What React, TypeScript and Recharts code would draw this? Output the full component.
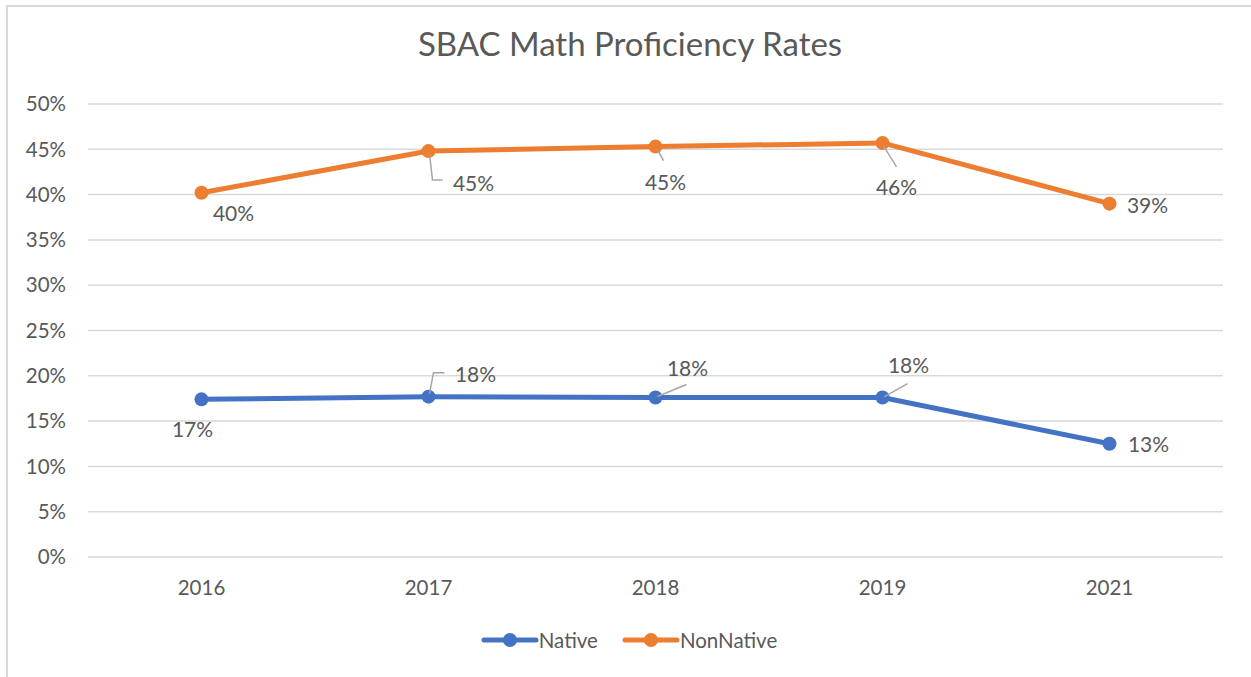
import { LineChart, Line, XAxis, YAxis, CartesianGrid, Legend } from 'recharts'

const years = ['2016', '2017', '2018', '2019', '2021']
const nativeRates = [17.4, 17.7, 17.6, 17.6, 12.5]
const nonNativeRates = [40.2, 44.8, 45.3, 45.7, 39.0]
const yTicks = [0, 5, 10, 15, 20, 25, 30, 35, 40, 45, 50]

const BLUE = '#4472C4'
const ORANGE = '#ED7D31'
const TEXT = '#595959'
const GRID = '#d9d9d9'
const FONT = 'Lato, "Open Sans", sans-serif'

const data = years.map((year, i) => ({
  year,
  Native: nativeRates[i],
  NonNative: nonNativeRates[i],
}))

// label placement relative to each point (Excel-style, some with leader lines)
type LabelPos = { dx: number; dy: number; leader?: number[][] }

const nativeLabelPos: LabelPos[] = [
  { dx: -9, dy: 29 },
  { dx: 47, dy: -23, leader: [[1, -3], [5, -24], [16, -24]] },
  { dx: 32, dy: -30, leader: [[2, -1], [31, -13]] },
  { dx: 26, dy: -33, leader: [[2, -1], [25, -14]] },
  { dx: 39, dy: 0 },
]

const nonNativeLabelPos: LabelPos[] = [
  { dx: 32, dy: 20 },
  { dx: 45, dy: 31, leader: [[1, 3], [4, 29], [14, 29]] },
  { dx: 10, dy: 35, leader: [[2, 3], [8, 14]] },
  { dx: 14, dy: 44, leader: [[1, 3], [14, 24]] },
  { dx: 38, dy: 1 },
]

function makeLabel(positions: LabelPos[]) {
  return (props: any) => {
    const { x, y, value, index } = props
    const p = positions[index]
    if (!p) return null
    return (
      <g>
        {p.leader && (
          <polyline
            points={p.leader.map(([a, b]) => `${x + a},${y + b}`).join(' ')}
            fill="none"
            stroke="#a6a6a6"
            strokeWidth={1.5}
          />
        )}
        <text
          x={x + p.dx}
          y={y + p.dy}
          textAnchor="middle"
          dominantBaseline="central"
          fill={TEXT}
          fontSize={21}
          fontFamily={FONT}
        >
          {Math.round(value)}%
        </text>
      </g>
    )
  }
}

function LegendContent() {
  const items = [
    { name: 'Native', color: BLUE },
    { name: 'NonNative', color: ORANGE },
  ]
  return (
    <div style={{ display: 'flex', justifyContent: 'center', gap: 24, fontFamily: FONT, fontSize: 20.5, color: TEXT }}>
      {items.map((it) => (
        <div key={it.name} style={{ display: 'flex', alignItems: 'center' }}>
          <svg width={58} height={20}>
            <line x1={3} y1={10} x2={55} y2={10} stroke={it.color} strokeWidth={5} strokeLinecap="round" />
            <circle cx={29} cy={10} r={7} fill={it.color} />
          </svg>
          <span>{it.name}</span>
        </div>
      ))}
    </div>
  )
}

export default function App() {
  return (
    <div style={{ position: 'absolute', left: 0, top: 0, width: 1251, height: 677, background: '#fff', overflow: 'hidden' }}>
      <div
        style={{
          position: 'absolute',
          left: 6,
          top: 5,
          width: 1300,
          height: 700,
          borderLeft: `2px solid ${GRID}`,
          borderTop: `2px solid ${GRID}`,
        }}
      />
      <div
        style={{
          position: 'absolute',
          left: 0,
          top: 23,
          width: 1251,
          textAlign: 'center',
          fontFamily: FONT,
          fontSize: 33,
          color: TEXT,
          paddingLeft: 9,
          boxSizing: 'border-box',
        }}
      >
        SBAC Math Proficiency Rates
      </div>
      <div style={{ position: 'absolute', left: 7, top: 6 }}>
        <LineChart width={1244} height={671} data={data} margin={{ top: 98, right: 28, left: 21, bottom: 80 }}>
          <CartesianGrid vertical={false} stroke={GRID} strokeWidth={1.5} />
          <XAxis
            dataKey="year"
            axisLine={false}
            tickLine={false}
            tickSize={0}
            tickMargin={23}
            height={40}
            padding={{ left: 113.5, right: 113.5 }}
            tick={{ fill: TEXT, fontSize: 20.5, fontFamily: FONT }}
          />
          <YAxis
            domain={[0, 50]}
            ticks={yTicks}
            interval={0}
            width={60}
            axisLine={false}
            tickLine={false}
            tickSize={0}
            tickMargin={22}
            tickFormatter={(v) => `${v}%`}
            tick={{ fill: TEXT, fontSize: 20.5, fontFamily: FONT }}
          />
          <Legend
            verticalAlign="middle"
            align="center"
            layout="horizontal"
            content={<LegendContent />}
            wrapperStyle={{ top: 622, left: 0, width: 1244 }}
          />
          <Line
            dataKey="Native"
            stroke={BLUE}
            strokeWidth={5}
            dot={{ r: 7, fill: BLUE, stroke: BLUE, strokeWidth: 0 }}
            activeDot={false}
            label={makeLabel(nativeLabelPos)}
            isAnimationActive={false}
          />
          <Line
            dataKey="NonNative"
            stroke={ORANGE}
            strokeWidth={5}
            dot={{ r: 7, fill: ORANGE, stroke: ORANGE, strokeWidth: 0 }}
            activeDot={false}
            label={makeLabel(nonNativeLabelPos)}
            isAnimationActive={false}
          />
        </LineChart>
      </div>
    </div>
  )
}
